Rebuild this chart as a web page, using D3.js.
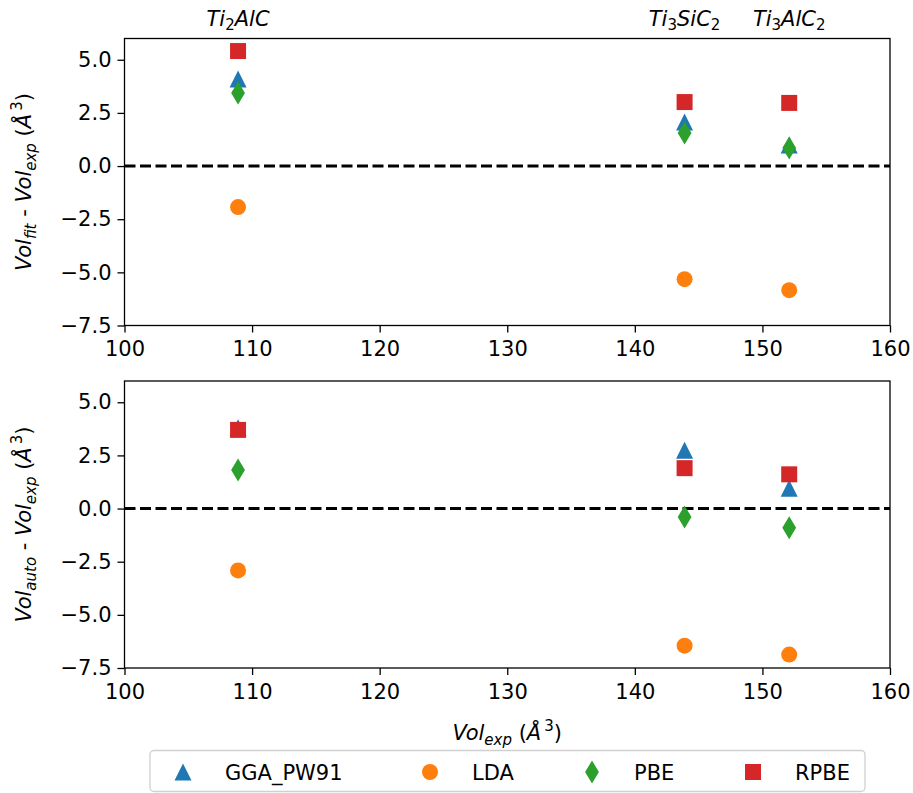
<!DOCTYPE html>
<html>
<head>
<meta charset="utf-8">
<script src="https://cdn.jsdelivr.net/npm/d3@7"></script>
<style>
body { margin: 0; background: #fff; }
svg text { font-family: "DejaVu Sans", sans-serif; fill: #000; }
</style>
</head>
<body>
<div id="chart"></div>
<script>
// DATA
var compounds = ["Ti2AlC", "Ti3SiC2", "Ti3AlC2"];
var volExp = [108.9, 143.9, 152.1];
var methods = ["GGA_PW91", "LDA", "PBE", "RPBE"];

// top panel: Vol_fit - Vol_exp
var fitGGA = [4.1, 2.07, 0.99];
var fitLDA = [-1.93, -5.32, -5.84];
var fitPBE = [3.44, 1.55, 0.85];
var fitRPBE = [5.41, 3.01, 2.97];

// bottom panel: Vol_auto - Vol_exp
var autoGGA = [3.8, 2.74, 0.95];
var autoLDA = [-2.91, -6.45, -6.87];
var autoPBE = [1.81, -0.40, -0.90];
var autoRPBE = [3.7, 1.9, 1.61];

var xTicks = [100, 110, 120, 130, 140, 150, 160];
var yTicks = [5.0, 2.5, 0.0, -2.5, -5.0, -7.5];

// SET UP DIMENSIONS
var W = 913, H = 793;
var left = 124.5, right = 890;
var panels = [
  {top: 38.5, bottom: 325.5, sub: "fit", series: [fitGGA, fitLDA, fitPBE, fitRPBE]},
  {top: 381, bottom: 668, sub: "auto", series: [autoGGA, autoLDA, autoPBE, autoRPBE]}
];
var colors = ["#1f77b4", "#ff7f0e", "#2ca02c", "#d62728"];

// matplotlib-like markers (bbox centred)
var triUp = {draw: function(c, s) { var r = Math.sqrt(s) / 2; c.moveTo(0, -r); c.lineTo(r, r); c.lineTo(-r, r); c.closePath(); }};
var circ = {draw: function(c, s) { var r = Math.sqrt(s) / 2; c.moveTo(r, 0); c.arc(0, 0, r, 0, 2 * Math.PI); }};
var thinDiamond = {draw: function(c, s) { var r = Math.sqrt(s) / 2; var w = r * 0.6; c.moveTo(0, -r); c.lineTo(w, 0); c.lineTo(0, r); c.lineTo(-w, 0); c.closePath(); }};
var sq = {draw: function(c, s) { var r = Math.sqrt(s) / 2; c.rect(-r, -r, 2 * r, 2 * r); }};
var markerTypes = [triUp, circ, thinDiamond, sq];
var markerSizes = [17 * 17, 16 * 16, 23 * 23, 16 * 16];

var svg = d3.select("#chart").append("svg")
  .attr("width", W).attr("height", H);

var x = d3.scaleLinear().domain([100, 160]).range([left, right]);

panels.forEach(function(p) {
  var y = d3.scaleLinear().domain([-7.5, 6.0]).range([p.bottom, p.top]);
  var g = svg.append("g");

  // zero line
  g.append("line")
    .attr("x1", left).attr("x2", right)
    .attr("y1", y(0)).attr("y2", y(0))
    .attr("stroke", "#000").attr("stroke-width", 3)
    .attr("stroke-dasharray", "11,4.5");

  // markers, drawn series by series (later series on top)
  p.series.forEach(function(vals, si) {
    g.selectAll(".m" + si)
      .data(vals)
      .enter().append("path")
        .attr("class", "m" + si)
        .attr("transform", function(d, i) { return "translate(" + x(volExp[i]) + "," + y(d) + ")"; })
        .attr("d", d3.symbol().type(markerTypes[si]).size(markerSizes[si]))
        .attr("fill", colors[si]);
  });

  // axes
  var xa = g.append("g")
    .attr("transform", "translate(0," + p.bottom + ")")
    .call(d3.axisBottom(x).tickValues(xTicks).tickSize(7).tickPadding(6).tickFormat(d3.format("d")));
  var ya = g.append("g")
    .attr("transform", "translate(" + left + ",0)")
    .call(d3.axisLeft(y).tickValues(yTicks).tickSize(7).tickPadding(6).tickFormat(function(d) { return d < 0 ? "\u2212" + Math.abs(d).toFixed(1) : d.toFixed(1); }));
  [xa, ya].forEach(function(a) {
    a.select(".domain").remove();
    a.selectAll(".tick line").attr("stroke", "#000").attr("stroke-width", 1.3);
    a.selectAll(".tick text").style("font-size", "21px").style("font-family", "DejaVu Sans");
  });
  xa.selectAll(".tick text").attr("dy", "0.85em");

  // frame
  g.append("rect")
    .attr("x", left).attr("y", p.top)
    .attr("width", right - left).attr("height", p.bottom - p.top)
    .attr("fill", "none").attr("stroke", "#000").attr("stroke-width", 1.3);

  // y label
  var yl = g.append("text")
    .attr("transform", "translate(31," + ((p.top + p.bottom) / 2) + ") rotate(-90)")
    .attr("text-anchor", "middle")
    .style("font-size", "21px");
  yl.append("tspan").style("font-style", "italic").text("Vol");
  yl.append("tspan").style("font-style", "italic").style("font-size", "15px").attr("dy", 5).text(p.sub);
  yl.append("tspan").attr("dy", -5).text(" - ");
  yl.append("tspan").style("font-style", "italic").text("Vol");
  yl.append("tspan").style("font-style", "italic").style("font-size", "15px").attr("dy", 5).text("exp");
  yl.append("tspan").attr("dy", -5).text(" (");
  yl.append("tspan").style("font-style", "italic").text("\u00C5");
  yl.append("tspan").style("font-size", "15px").attr("dy", -9).text("\u20093");
  yl.append("tspan").attr("dy", 9).text(")");
});

// compound labels above top panel
var subs = {"Ti2AlC": ["Ti", "2", "AlC", ""], "Ti3SiC2": ["Ti", "3", "SiC", "2"], "Ti3AlC2": ["Ti", "3", "AlC", "2"]};
compounds.forEach(function(c, i) {
  var parts = subs[c];
  var t = svg.append("text")
    .attr("x", x(volExp[i])).attr("y", 26)
    .attr("text-anchor", "middle")
    .style("font-size", "21px").style("font-style", "italic");
  t.append("tspan").text(parts[0]);
  t.append("tspan").style("font-style", "normal").style("font-size", "15px").attr("dy", 4).text(parts[1]);
  t.append("tspan").attr("dy", -4).text(parts[2]);
  if (parts[3]) t.append("tspan").style("font-style", "normal").style("font-size", "15px").attr("dy", 4).text(parts[3]);
});

// x label
var xl = svg.append("text")
  .attr("x", (left + right) / 2).attr("y", 740)
  .attr("text-anchor", "middle")
  .style("font-size", "21px");
xl.append("tspan").style("font-style", "italic").text("Vol");
xl.append("tspan").style("font-style", "italic").style("font-size", "15px").attr("dy", 5).text("exp");
xl.append("tspan").attr("dy", -5).text(" (");
xl.append("tspan").style("font-style", "italic").text("\u00C5");
xl.append("tspan").style("font-size", "15px").attr("dy", -9).text("\u20093");
xl.append("tspan").attr("dy", 9).text(")");

// LEGEND
var lg = svg.append("g");
lg.append("rect")
  .attr("x", 150).attr("y", 750.5).attr("width", 715).attr("height", 41)
  .attr("rx", 4).attr("fill", "#fff").attr("stroke", "#d0d0d0").attr("stroke-width", 1.3);
var legendX = [183, 430, 592, 753];
methods.forEach(function(m, i) {
  lg.append("path")
    .attr("transform", "translate(" + legendX[i] + ",772)")
    .attr("d", d3.symbol().type(markerTypes[i]).size(markerSizes[i]))
    .attr("fill", colors[i]);
  lg.append("text")
    .attr("x", legendX[i] + 42).attr("y", 779.5)
    .style("font-size", "21px")
    .text(m);
});
</script>
</body>
</html>
